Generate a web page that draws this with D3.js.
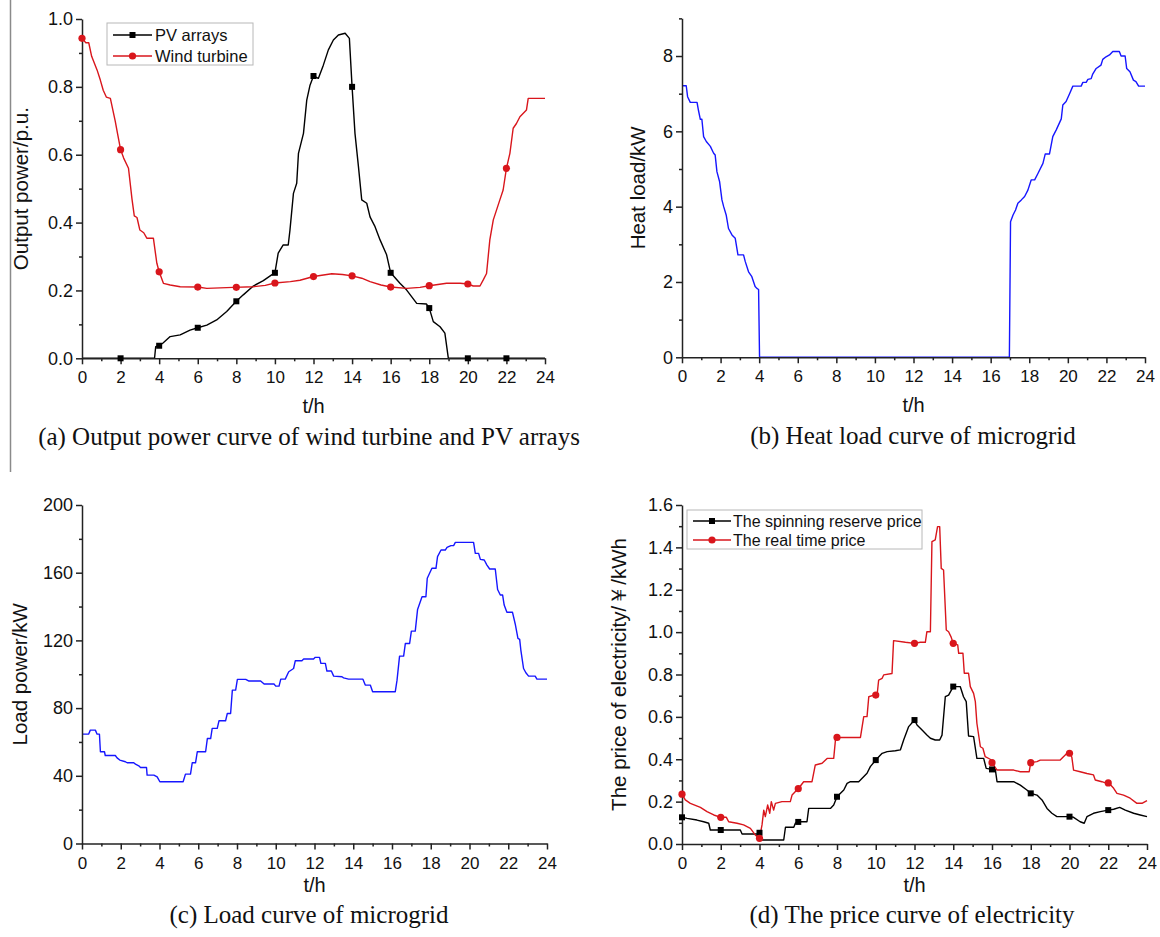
<!DOCTYPE html>
<html>
<head>
<meta charset="utf-8">
<script src="https://cdn.jsdelivr.net/npm/d3@7/dist/d3.min.js"></script>
<style>
  body { margin: 0; background: #fff; }
  svg { display: block; }
  .tick text { fill: #111; }
</style>
</head>
<body>
<svg id="fig" width="1160" height="937"></svg>
<script>
// ---------- data: hours of day and values ----------
const markerHours = [0, 2, 4, 6, 8, 10, 12, 14, 16, 18, 20, 22];
const xTickHours = [0, 2, 4, 6, 8, 10, 12, 14, 16, 18, 20, 22, 24];

// (a) PV arrays output, p.u.
const pvHours = [0, 3.76, 3.82, 4.0, 4.2, 4.57, 5.09, 5.6, 6.0, 6.47, 6.98, 7.5, 8.0, 8.36, 8.88, 9.4, 9.83, 10.0,
  10.17, 10.43, 10.69, 10.78, 10.96, 11.13, 11.22, 11.48, 11.65, 11.82, 12.0, 12.25, 12.51, 12.77, 13.03, 13.29,
  13.64, 13.86, 14.0, 14.15, 14.33, 14.5, 14.76, 14.93, 15.19, 15.45, 15.79, 16.0, 16.48, 16.83, 17.35, 17.86,
  18.0, 18.21, 18.56, 18.81, 18.99, 24];
const pvOutput = [0, 0, 0.034, 0.037, 0.045, 0.064, 0.069, 0.083, 0.09, 0.098, 0.113, 0.138, 0.168, 0.187, 0.213,
  0.229, 0.246, 0.252, 0.31, 0.334, 0.334, 0.378, 0.486, 0.516, 0.604, 0.663, 0.761, 0.805, 0.832, 0.825, 0.864,
  0.909, 0.938, 0.953, 0.958, 0.943, 0.80, 0.663, 0.565, 0.467, 0.457, 0.417, 0.388, 0.349, 0.305, 0.252, 0.221,
  0.201, 0.162, 0.16, 0.148, 0.108, 0.093, 0.074, 0, 0];
const pvMarkerHours = [2, 4, 6, 8, 10, 12, 14, 16, 18, 20, 22];

// (a) wind turbine output, p.u.
const windHours = [0, 0.2, 0.35, 0.5, 0.78, 0.95, 1.1, 1.26, 1.47, 1.72, 1.85, 2.0, 2.16, 2.41, 2.59, 2.71, 2.85,
  3.0, 3.2, 3.36, 3.7, 3.88, 4.0, 4.22, 4.57, 5.09, 6.0, 6.47, 7.84, 8.88, 9.5, 10.0, 10.8, 11.3, 12.0, 12.95,
  13.5, 14.0, 14.5, 14.93, 15.5, 16.0, 16.83, 17.52, 18.0, 18.9, 19.6, 20.0, 20.28, 20.63, 20.8, 20.97, 21.14,
  21.32, 21.66, 21.83, 22.0, 22.18, 22.35, 22.52, 22.7, 23.04, 23.13, 24];
const windOutput = [0.943, 0.93, 0.93, 0.89, 0.85, 0.82, 0.79, 0.77, 0.766, 0.70, 0.66, 0.615, 0.59, 0.56, 0.47,
  0.42, 0.415, 0.378, 0.37, 0.354, 0.354, 0.28, 0.255, 0.221, 0.216, 0.211, 0.21, 0.206, 0.209, 0.211, 0.215,
  0.222, 0.226, 0.23, 0.241, 0.249, 0.247, 0.243, 0.236, 0.226, 0.216, 0.21, 0.206, 0.209, 0.214, 0.221, 0.221,
  0.219, 0.213, 0.213, 0.231, 0.25, 0.349, 0.408, 0.467, 0.496, 0.56, 0.604, 0.678, 0.692, 0.712, 0.732, 0.766, 0.766];

// (b) heat load, kW
const heatHours = [0, 0.22, 0.29, 0.43, 0.78, 0.86, 0.95, 1.03, 1.12, 1.26, 1.47, 1.64, 1.72, 1.81, 1.95, 2.07,
  2.16, 2.29, 2.41, 2.59, 2.76, 2.9, 3.19, 3.28, 3.45, 3.62, 3.79, 3.88, 3.97, 4.02, 16.97, 17.03, 17.16, 17.29,
  17.41, 17.59, 17.76, 17.93, 18.1, 18.28, 18.45, 18.71, 18.83, 19.05, 19.22, 19.4, 19.66, 19.74, 19.91, 20.09,
  20.26, 20.69, 20.78, 20.95, 21.04, 21.21, 21.29, 21.47, 21.72, 21.81, 21.98, 22.16, 22.33, 22.67, 22.76, 22.97,
  23.05, 23.22, 23.4, 23.53, 23.67, 24];
const heatLoad = [7.21, 7.21, 6.92, 6.77, 6.77, 6.54, 6.32, 6.32, 5.86, 5.73, 5.6, 5.42, 5.37, 4.93, 4.66, 4.18,
  4.0, 3.78, 3.42, 3.25, 3.16, 2.72, 2.72, 2.54, 2.27, 2.14, 1.88, 1.83, 1.8, 0, 0, 3.6, 3.78, 3.91, 4.09, 4.18,
  4.27, 4.44, 4.71, 4.71, 4.88, 5.15, 5.4, 5.4, 5.86, 6.04, 6.33, 6.7, 6.79, 7.0, 7.2, 7.2, 7.3, 7.3, 7.38, 7.4,
  7.52, 7.67, 7.76, 7.91, 7.98, 8.03, 8.12, 8.12, 8.0, 8.0, 7.67, 7.58, 7.36, 7.32, 7.2, 7.2];

// (c) electric load, kW
const loadHours = [0, 0.34, 0.43, 0.69, 0.78, 0.9, 0.95, 1.16, 1.2, 1.72, 1.81, 1.95, 2.24, 2.33, 2.67, 2.76, 2.93,
  3.02, 3.33, 3.36, 3.71, 3.88, 4.02, 5.22, 5.34, 5.6, 5.69, 5.86, 5.95, 6.38, 6.47, 6.64, 6.72, 6.98, 7.07, 7.41,
  7.5, 7.67, 7.76, 7.93, 8.02, 8.45, 8.62, 9.22, 9.4, 9.91, 10.0, 10.17, 10.26, 10.49, 10.67, 10.92, 11.01, 11.35,
  11.44, 11.95, 12.04, 12.26, 12.33, 12.56, 12.64, 12.87, 12.99, 13.42, 13.5, 13.76, 14.5, 14.62, 14.88, 15.0,
  16.17, 16.26, 16.39, 16.6, 16.69, 16.91, 17.0, 17.2, 17.32, 17.55, 17.75, 17.82, 18.06, 18.27, 18.35, 18.53,
  18.75, 18.84, 19.04, 19.18, 19.27, 20.21, 20.3, 20.47, 20.56, 20.76, 20.9, 21.04, 21.33, 21.45, 21.59, 21.71,
  21.79, 21.93, 22.22, 22.36, 22.5, 22.59, 22.65, 22.79, 22.91, 23.05, 23.39, 23.48, 24];
const loadPower = [64.6, 64.6, 67, 67, 64.6, 64.6, 54.2, 54.2, 52, 52, 50.6, 49.3, 48.3, 47.7, 47.7, 46.9, 45.9,
  44.9, 44.9, 40.4, 40.4, 39.4, 36.5, 36.5, 41, 41, 47.7, 47.7, 54.2, 54.2, 62, 62, 68, 68, 72.5, 72.5, 76.8, 76.8,
  90.6, 90.6, 97, 97, 96, 96, 94.2, 94.2, 93, 93, 97.1, 97.1, 101.5, 103.4, 108, 108, 109, 109, 110, 110, 106.4,
  106.4, 101.9, 101.9, 98.9, 98.5, 97.9, 97.1, 97.1, 93.6, 93.6, 89.7, 89.7, 96.5, 110.7, 110.7, 118.2, 118.2,
  125.5, 125.5, 138.3, 145.8, 145.8, 156.7, 162.6, 162.6, 169.5, 173.4, 173.4, 175, 176, 176, 177.9, 177.9, 171.4,
  171.4, 167.9, 167.5, 164.5, 162.2, 162.2, 150.1, 146.8, 146.8, 140.9, 136.6, 136.6, 129.7, 121.2, 120.6, 114.3,
  103.4, 100.9, 98.9, 98.9, 97.1, 97.1];

// (d) spinning reserve price, yuan/kWh
const reserveHours = [0, 0.26, 0.77, 1.12, 1.38, 1.46, 2.0, 3.01, 3.1, 3.87, 4.0, 4.08, 5.25, 5.34, 5.77, 5.85,
  6.02, 6.45, 6.54, 7.66, 7.83, 8.0, 8.35, 8.52, 8.69, 9.12, 9.21, 9.55, 9.72, 10.0, 10.33, 10.59, 11.01, 11.27,
  11.44, 11.7, 12.0, 12.13, 12.39, 12.64, 12.82, 13.07, 13.3, 13.42, 13.59, 13.76, 14.0, 14.36, 14.53, 14.67,
  14.79, 15.05, 15.22, 15.57, 15.7, 16.0, 16.17, 16.26, 17.12, 17.46, 17.8, 18.0, 18.32, 18.58, 18.84, 19.09,
  19.35, 20.0, 20.21, 20.55, 20.76, 20.9, 21.24, 21.59, 22.0, 22.28, 22.59, 22.88, 23.31, 23.65, 24];
const reservePrice = [0.126, 0.121, 0.113, 0.105, 0.098, 0.066, 0.066, 0.066, 0.047, 0.047, 0.053, 0.019, 0.019,
  0.079, 0.079, 0.098, 0.105, 0.105, 0.168, 0.168, 0.184, 0.223, 0.255, 0.286, 0.294, 0.294, 0.302, 0.334, 0.365,
  0.396, 0.428, 0.436, 0.44, 0.444, 0.491, 0.554, 0.585, 0.562, 0.538, 0.514, 0.499, 0.491, 0.491, 0.514, 0.695,
  0.703, 0.743, 0.743, 0.695, 0.672, 0.51, 0.507, 0.404, 0.404, 0.357, 0.352, 0.352, 0.294, 0.294, 0.278, 0.255,
  0.239, 0.231, 0.208, 0.168, 0.145, 0.129, 0.129, 0.126, 0.105, 0.098, 0.129, 0.145, 0.153, 0.16, 0.164, 0.173,
  0.16, 0.145, 0.137, 0.129];

// (d) real time price, yuan/kWh
const realHours = [0, 0.17, 0.43, 0.95, 1.29, 1.64, 2.0, 2.29, 2.41, 2.84, 3.18, 3.53, 3.79, 4.0, 4.13, 4.22, 4.3,
  4.42, 4.53, 4.61, 4.73, 4.82, 5.16, 5.59, 5.68, 6.02, 6.28, 6.71, 6.88, 7.23, 7.49, 7.83, 7.92, 8.0, 9.21, 9.38,
  9.55, 9.64, 9.9, 10.07, 10.15, 10.33, 10.41, 10.84, 10.92, 11.53, 12.0, 12.3, 12.56, 12.64, 12.82, 12.9, 13.07,
  13.19, 13.3, 13.38, 13.5, 13.64, 13.76, 13.88, 14.0, 14.23, 14.28, 14.5, 14.57, 14.79, 14.88, 15.05, 15.14,
  15.22, 15.4, 15.53, 15.65, 15.91, 16.0, 16.26, 17.12, 17.46, 17.92, 18.0, 18.32, 18.49, 19.52, 19.87, 19.95,
  20.12, 20.21, 20.55, 20.9, 21.24, 21.33, 21.67, 21.93, 22.02, 22.28, 22.45, 22.79, 23.13, 23.48, 23.74, 24];
const realPrice = [0.235, 0.208, 0.192, 0.173, 0.153, 0.137, 0.126, 0.126, 0.105, 0.098, 0.09, 0.074, 0.042, 0.027,
  0.09, 0.16, 0.129, 0.184, 0.145, 0.2, 0.16, 0.192, 0.2, 0.2, 0.231, 0.263, 0.294, 0.294, 0.373, 0.381, 0.404,
  0.404, 0.491, 0.503, 0.503, 0.601, 0.601, 0.695, 0.703, 0.703, 0.774, 0.782, 0.798, 0.805, 0.96, 0.952, 0.947,
  0.952, 0.952, 1.002, 1.002, 1.427, 1.435, 1.498, 1.498, 1.301, 1.293, 1.01, 1.002, 0.979, 0.947, 0.94, 0.9, 0.9,
  0.806, 0.806, 0.743, 0.711, 0.672, 0.57, 0.459, 0.452, 0.412, 0.4, 0.384, 0.349, 0.349, 0.341, 0.341, 0.384,
  0.389, 0.396, 0.396, 0.428, 0.436, 0.41, 0.349, 0.341, 0.333, 0.326, 0.302, 0.294, 0.286, 0.289, 0.263, 0.239,
  0.231, 0.216, 0.192, 0.192, 0.205];

// ---------- drawing ----------
const SANS = "'Liberation Sans', Arial, Helvetica, sans-serif";
const SERIF = "'Liberation Serif', 'Times New Roman', serif";
const BLACK = "#000000", RED = "#d9161c", BLUE = "#1616ff";

const svg = d3.select("#fig");

// thin frame line at the left of the first panel
svg.append("line").attr("x1", 10.5).attr("x2", 10.5).attr("y1", 0).attr("y2", 472)
  .attr("stroke", "#8a8a8a").attr("stroke-width", 1.5);

// value of a polyline at hour t (marker placement on the curve)
function valueAt(hours, values, t) {
  const i = d3.bisectLeft(hours, t);
  if (i >= hours.length) return values[values.length - 1];
  if (hours[i] === t || i === 0) return values[i];
  const f = (t - hours[i - 1]) / (hours[i] - hours[i - 1]);
  return values[i - 1] + f * (values[i] - values[i - 1]);
}

function panel(cfg) {
  const g = svg.append("g");
  const x = d3.scaleLinear().domain([0, 24]).range([cfg.x0, cfg.x1]);
  const y = d3.scaleLinear().domain(cfg.yDomain).range([cfg.yBottom, cfg.yTop]);

  // series
  cfg.series.forEach(s => {
    const pts = s.hours.map((h, i) => [h, s.values[i]]);
    g.append("path").datum(pts)
      .attr("fill", "none").attr("stroke", s.color).attr("stroke-width", 1.4)
      .attr("stroke-linejoin", "round")
      .attr("d", d3.line().x(d => x(d[0])).y(d => y(d[1])));
  });

  // x axis: major and minor ticks
  const gx = g.append("g").attr("transform", `translate(0,${cfg.yBottom})`);
  gx.append("g").call(d3.axisBottom(x).tickValues(d3.range(1, 24, 2)).tickSize(3).tickSizeOuter(0).tickFormat(""))
    .call(a => a.select(".domain").remove());
  gx.append("g").call(d3.axisBottom(x).tickValues(xTickHours).tickSize(6).tickSizeOuter(0).tickPadding(7))
    .call(a => a.selectAll("text").attr("font-size", 17).attr("font-family", SANS));
  gx.selectAll("line, path").attr("stroke", "#222").attr("stroke-width", 1.5);

  // y axis
  const gy = g.append("g").attr("transform", `translate(${cfg.x0},0)`);
  gy.append("g").call(d3.axisLeft(y).tickValues(cfg.yMinor).tickSize(3).tickSizeOuter(0).tickFormat(""))
    .call(a => a.select(".domain").remove());
  gy.append("g").call(d3.axisLeft(y).tickValues(cfg.yMajor).tickSize(6).tickSizeOuter(0).tickPadding(3)
      .tickFormat(cfg.yFormat))
    .call(a => a.selectAll("text").attr("font-size", 18).attr("font-family", SANS));
  gy.selectAll("line, path").attr("stroke", "#222").attr("stroke-width", 1.5);

  // markers
  cfg.series.forEach(s => {
    if (!s.marker) return;
    const mh = s.markerHours || markerHours;
    const m = g.append("g");
    mh.forEach(h => {
      const cx = x(h), cy = y(valueAt(s.hours, s.values, h));
      if (s.marker === "square") {
        m.append("rect").attr("x", cx - 3).attr("y", cy - 3).attr("width", 6).attr("height", 6).attr("fill", s.color);
      } else {
        m.append("circle").attr("cx", cx).attr("cy", cy).attr("r", 3.6).attr("fill", s.color);
      }
    });
  });

  // titles
  g.append("text").text(cfg.yTitle)
    .attr("transform", `translate(${cfg.yTitleX},${(cfg.yBottom + cfg.yTop) / 2}) rotate(-90)`)
    .attr("text-anchor", "middle").attr("dominant-baseline", "central")
    .attr("font-family", SANS).attr("font-size", 20.5).attr("fill", "#111");
  g.append("text").text("t/h")
    .attr("x", (cfg.x0 + cfg.x1) / 2).attr("y", cfg.yBottom + cfg.xTitleDy)
    .attr("text-anchor", "middle").attr("font-family", SANS).attr("font-size", 20).attr("fill", "#111");
  g.append("text").text(cfg.caption)
    .attr("x", cfg.captionX).attr("y", cfg.yBottom + cfg.captionDy)
    .attr("text-anchor", "middle").attr("font-family", SERIF).attr("font-size", 25).attr("fill", "#111");

  // legend
  if (cfg.legend) {
    const L = cfg.legend;
    const lg = g.append("g");
    lg.append("rect").attr("x", L.x).attr("y", L.y).attr("width", L.w).attr("height", L.h)
      .attr("fill", "#fff").attr("stroke", "#b8b8b8").attr("stroke-width", 1);
    L.items.forEach((it, i) => {
      const cy = L.y + L.rowY[i];
      lg.append("line").attr("x1", L.x + 6).attr("x2", L.x + 6 + L.lineLen).attr("y1", cy).attr("y2", cy)
        .attr("stroke", it.color).attr("stroke-width", 1.4);
      const mx = L.x + 6 + L.lineLen / 2;
      if (it.marker === "square") {
        lg.append("rect").attr("x", mx - 3).attr("y", cy - 3).attr("width", 6).attr("height", 6).attr("fill", it.color);
      } else {
        lg.append("circle").attr("cx", mx).attr("cy", cy).attr("r", 3.6).attr("fill", it.color);
      }
      lg.append("text").text(it.label).attr("x", L.x + L.textX).attr("y", cy)
        .attr("dominant-baseline", "central").attr("font-family", SANS).attr("font-size", L.fontSize).attr("fill", "#111");
    });
  }
}

const fmt1 = d3.format(".1f");

panel({
  x0: 82, x1: 545, yBottom: 358.3, yTop: 19, yDomain: [0, 1],
  yMajor: [0, 0.2, 0.4, 0.6, 0.8, 1.0], yMinor: [0.1, 0.3, 0.5, 0.7, 0.9], yFormat: fmt1,
  yTitle: "Output power/p.u.", yTitleX: 20,
  xTitleDy: 55,
  caption: "(a) Output power curve of wind turbine and PV arrays", captionX: 309, captionDy: 87,
  series: [
    { hours: pvHours, values: pvOutput, color: BLACK, marker: "square", markerHours: pvMarkerHours },
    { hours: windHours, values: windOutput, color: RED, marker: "circle" }
  ],
  legend: { x: 107, y: 23, w: 146, h: 42, rowY: [12, 33], lineLen: 39, textX: 48, fontSize: 16.5,
    items: [
      { label: "PV arrays", color: BLACK, marker: "square" },
      { label: "Wind turbine", color: RED, marker: "circle" }
    ] }
});

panel({
  x0: 682, x1: 1145, yBottom: 357.3, yTop: 357.3 - 9 * 37.66, yDomain: [0, 9],
  yMajor: [0, 2, 4, 6, 8], yMinor: [1, 3, 5, 7, 9], yFormat: d3.format("d"),
  yTitle: "Heat load/kW", yTitleX: 637,
  xTitleDy: 55,
  caption: "(b) Heat load curve of microgrid", captionX: 913, captionDy: 87,
  series: [ { hours: heatHours, values: heatLoad, color: BLUE } ]
});

panel({
  x0: 82, x1: 547, yBottom: 843.5, yTop: 505, yDomain: [0, 200],
  yMajor: [0, 40, 80, 120, 160, 200], yMinor: [20, 60, 100, 140, 180], yFormat: d3.format("d"),
  yTitle: "Load power/kW", yTitleX: 19,
  xTitleDy: 48,
  caption: "(c) Load curve of microgrid", captionX: 309, captionDy: 79,
  series: [ { hours: loadHours, values: loadPower, color: BLUE } ]
});

panel({
  x0: 682, x1: 1147, yBottom: 844, yTop: 505, yDomain: [0, 1.6],
  yMajor: d3.range(0, 1.61, 0.2), yMinor: d3.range(0.1, 1.6, 0.2), yFormat: fmt1,
  yTitle: "The price of electricity/\uFFE5/kWh", yTitleX: 618,
  xTitleDy: 48,
  caption: "(d) The price curve of electricity", captionX: 912, captionDy: 79,
  series: [
    { hours: reserveHours, values: reservePrice, color: BLACK, marker: "square" },
    { hours: realHours, values: realPrice, color: RED, marker: "circle" }
  ],
  legend: { x: 687, y: 510, w: 235, h: 39, rowY: [11, 30], lineLen: 38, textX: 46, fontSize: 16,
    items: [
      { label: "The spinning reserve price", color: BLACK, marker: "square" },
      { label: "The real time price", color: RED, marker: "circle" }
    ] }
});
</script>
</body>
</html>
